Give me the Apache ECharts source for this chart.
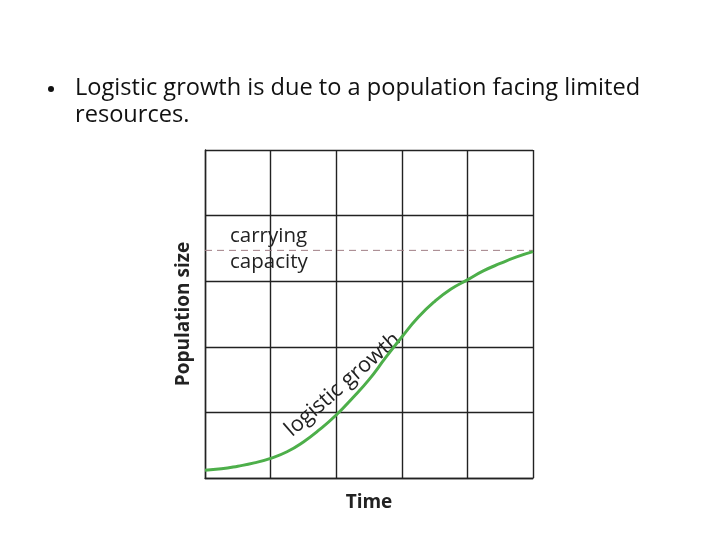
<!DOCTYPE html>
<html><head><meta charset="utf-8">
<script src="https://cdn.jsdelivr.net/npm/echarts@6/dist/echarts.min.js"></script>
<style>html,body{margin:0;padding:0;background:#fff}#c{width:720px;height:540px}</style>
</head><body><div id="c"></div>
<script>
const timeValues = [0, 0.25, 0.5, 0.75, 1, 1.25, 1.5, 1.75, 2, 2.25, 2.5, 2.75, 3, 3.25, 3.5, 3.75, 4, 4.25, 4.5, 4.75, 5];
const populationValues = [0.12, 0.14, 0.18, 0.23, 0.30, 0.40, 0.55, 0.74, 0.96, 1.22, 1.5, 1.83, 2.15, 2.45, 2.69, 2.88, 3.02, 3.16, 3.27, 3.37, 3.45];
const carryingCapacity = 3.47;
const axisMax = 5;
const titleLine1 = 'Logistic growth is due to a population facing limited';
const titleLine2 = 'resources.';

const chart = echarts.init(document.getElementById('c'), null, {renderer: 'canvas'});
const gridLine = {show: true, lineStyle: {color: '#222', width: 1.4}};
chart.setOption({
  backgroundColor: '#fff',
  animation: false,
  grid: {left: 205, top: 150, width: 328, height: 328},
  xAxis: {type: 'value', min: 0, max: axisMax, interval: 1,
    axisLine: {show: true, lineStyle: {color: '#222', width: 1.4}}, axisTick: {show: false}, axisLabel: {show: false},
    splitLine: gridLine,
    name: 'Time', nameLocation: 'middle', nameGap: 15,
    nameTextStyle: {fontFamily: 'Open Sans', fontWeight: 'bold', fontSize: 19, color: '#222'}},
  yAxis: {type: 'value', min: 0, max: axisMax, interval: 1,
    axisLine: {show: true, lineStyle: {color: '#222', width: 1.4}}, axisTick: {show: false}, axisLabel: {show: false},
    splitLine: gridLine,
    name: 'Population size', nameLocation: 'middle', nameGap: 12, nameRotate: 90,
    nameTextStyle: {fontFamily: 'Open Sans', fontWeight: 'bold', fontSize: 19, color: '#222'}},
  series: [
    {type: 'line', data: [[0, carryingCapacity], [axisMax, carryingCapacity]], symbol: 'none',
     lineStyle: {color: '#a07f86', width: 1, type: [7, 5]}, z: 2},
    {type: 'line', smooth: 0.5, symbol: 'none', data: timeValues.map((t, i) => [t, populationValues[i]]),
     lineStyle: {color: '#4daf4a', width: 3}, z: 3}
  ],
  graphic: [
    {type: 'circle', shape: {cx: 51, cy: 89, r: 3}, style: {fill: '#111'}},
    {type: 'text', left: 75, top: 76, style: {text: titleLine1, font: '23.6px "Open Sans"', fill: '#111'}},
    {type: 'text', left: 75, top: 103, style: {text: titleLine2, font: '23.6px "Open Sans"', fill: '#111'}},
    {type: 'text', left: 230, top: 223, style: {text: 'carrying\ncapacity', font: '20.5px "Open Sans"', lineHeight: 26, fill: '#222'}},
    {type: 'text', x: 350, y: 393, rotation: 0.72, style: {text: 'logistic growth', font: '21.5px "Open Sans"', fill: '#222', align: 'center', verticalAlign: 'bottom'}}
  ]
});
</script></body></html>
